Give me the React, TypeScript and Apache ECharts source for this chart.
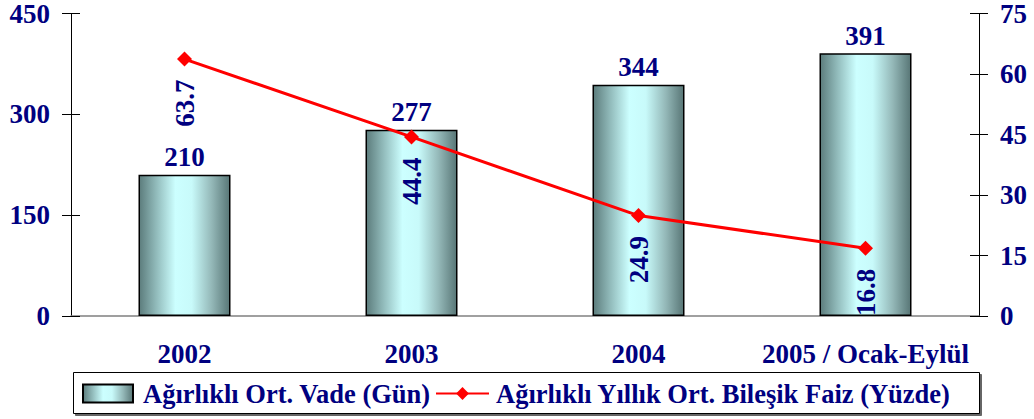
import React, { useEffect, useRef } from "react";
import * as echarts from "echarts";

const categories = ["2002", "2003", "2004", "2005 / Ocak-Eylül"];
const vadeValues = [210, 277, 344, 391];
const faizValues = [63.7, 44.4, 24.9, 16.8];
const leftTicks = { min: 0, max: 450, interval: 150 };
const rightTicks = { min: 0, max: 75, interval: 15 };
const barName = "Ağırlıklı Ort. Vade (Gün)";
const lineName = "Ağırlıklı Yıllık Ort. Bileşik Faiz (Yüzde)";

const NAVY = "#000080";
const FONT = "'Liberation Serif', 'Times New Roman', serif";

export default function App() {
  const ref = useRef<HTMLDivElement>(null);
  useEffect(() => {
    if (!ref.current) return;
    const chart = echarts.init(ref.current, undefined, { renderer: "svg" });
    const barGradient = new echarts.graphic.LinearGradient(0, 0, 1, 0, [
      { offset: 0, color: "#5c7c7c" },
      { offset: 0.18, color: "#8fb8b8" },
      { offset: 0.4, color: "#ccffff" },
      { offset: 0.58, color: "#c8fafa" },
      { offset: 0.8, color: "#94b8b8" },
      { offset: 1, color: "#587676" },
    ]);
    const labelFont = { fontFamily: FONT, fontWeight: "bold" as const, fontSize: 27, color: NAVY };
    const legendFont = { fontFamily: FONT, fontWeight: "bold" as const, fontSize: 26.5, color: NAVY };
    const hiddenAxis = (pos: "left" | "right", t: { min: number; max: number; interval: number }) => ({
      type: "value",
      position: pos,
      min: t.min,
      max: t.max,
      interval: t.interval,
      axisLine: { show: false },
      axisLabel: { show: false },
      splitLine: { show: false },
      axisTick: { show: true, inside: true, length: 9, lineStyle: { color: "#000", width: 1 } },
    });
    chart.setOption({
      animation: false,
      backgroundColor: "#ffffff",
      textStyle: { fontFamily: FONT },
      grid: { left: 71, right: 55, top: 13, bottom: 103, containLabel: false },
      graphic: [
        {
          type: "rect",
          left: 73,
          top: 372,
          shape: { width: 906, height: 41 },
          style: {
            fill: "#fff",
            stroke: "#000",
            lineWidth: 1,
            shadowColor: "rgba(0,0,0,0.6)",
            shadowOffsetX: 2,
            shadowOffsetY: 2,
            shadowBlur: 0,
          },
          z: -1,
        },
      ],
      legend: [
        {
          data: [{ name: barName, icon: "rect" }],
          left: 82,
          top: 380,
          padding: 0,
          itemWidth: 50,
          itemHeight: 18,
          textStyle: { ...legendFont, padding: [0, 0, 0, 5] },
        },
        {
          data: [lineName],
          left: 435,
          top: 380,
          padding: 0,
          itemWidth: 53,
          itemHeight: 16,
          textStyle: { ...legendFont, padding: [0, 0, 0, 2] },
        },
      ],
      xAxis: {
        type: "category",
        data: categories,
        axisLine: { show: true, lineStyle: { color: "#808080", width: 1.5 } },
        axisTick: { show: false },
        axisLabel: { ...labelFont, margin: 24, interval: 0 },
        splitLine: { show: false },
      },
      yAxis: [
        {
          type: "value",
          position: "left",
          ...leftTicks,
          axisLine: { show: true, lineStyle: { color: "#000", width: 1 } },
          axisTick: { show: true, length: 9, lineStyle: { color: "#000", width: 1 } },
          axisLabel: { ...labelFont, margin: 21 },
          splitLine: { show: false },
        },
        {
          type: "value",
          position: "right",
          ...rightTicks,
          axisLine: { show: true, lineStyle: { color: "#000", width: 1 } },
          axisTick: { show: true, length: 9, lineStyle: { color: "#000", width: 1 } },
          axisLabel: { ...labelFont, margin: 21 },
          splitLine: { show: false },
        },
        hiddenAxis("left", leftTicks),
        hiddenAxis("right", rightTicks),
      ],
      series: [
        {
          name: barName,
          type: "bar",
          yAxisIndex: 0,
          data: vadeValues,
          barWidth: 92,
          itemStyle: { color: barGradient, borderColor: "#000", borderWidth: 1.5 },
          label: { show: true, position: "top", distance: 4, ...labelFont },
          z: 2,
        },
        {
          name: lineName,
          type: "line",
          yAxisIndex: 1,
          data: faizValues,
          symbol: "diamond",
          symbolSize: 15,
          lineStyle: { color: "#ff0000", width: 3 },
          itemStyle: { color: "#ff0000" },
          label: {
            show: true,
            position: "bottom",
            distance: 13,
            rotate: 90,
            align: "right",
            verticalAlign: "middle",
            ...labelFont,
          },
          z: 3,
        },
      ],
    });
    return () => chart.dispose();
  }, []);
  return (
    <div
      ref={ref}
      style={{ position: "fixed", left: 0, top: 0, width: 1034, height: 419 }}
    />
  );
}
